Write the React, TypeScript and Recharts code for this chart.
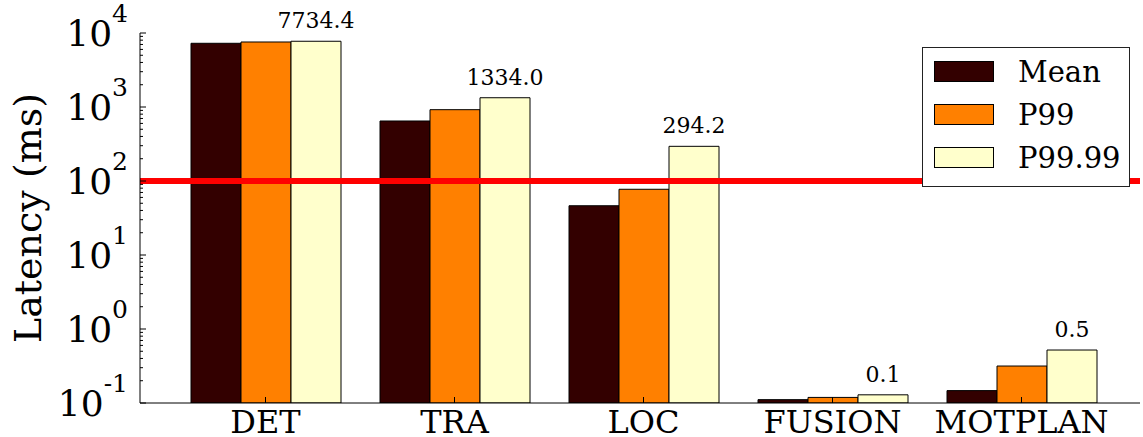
import React from 'react';
import {
  BarChart,
  Bar,
  XAxis,
  YAxis,
  ReferenceLine,
  LabelList,
  Legend
} from 'recharts';

const FONT = '"DejaVu Serif", serif';

// stages and latency values (ms)
const stages = ['DET', 'TRA', 'LOC', 'FUSION', 'MOTPLAN'];
const meanLatency = [7260, 647, 46.3, 0.111, 0.147];
const p99Latency = [7560, 920, 77.3, 0.119, 0.316];
const p9999Latency = [7734.4, 1334.0, 294.2, 0.129, 0.52];

const seriesNames = ['Mean', 'P99', 'P99.99'];
const seriesColors = ['#330000', '#ff8000', '#ffffcc'];

const majorTicks = [0.1, 1, 10, 100, 1000, 10000];
const deadline = 100;

// minor log ticks 2..9 inside each decade
const minorTicks = majorTicks.slice(0, -1).flatMap(d =>
  [2, 3, 4, 5, 6, 7, 8, 9].map(k => k * d)
);
const allTicks = [...majorTicks, ...minorTicks];

const data = stages.map((name, i) => ({
  name,
  mean: meanLatency[i],
  p99: p99Latency[i],
  p9999: p9999Latency[i]
}));

const isMajor = (v: number) => {
  const l = Math.log10(v);
  return Math.abs(l - Math.round(l)) < 1e-6;
};

const LeftTick = (props: any) => {
  const { x, y, payload } = props;
  const v = payload.value;
  const major = isMajor(v);
  const x0 = x + 12;
  return (
    <g>
      <line x1={x0} x2={x0 + (major ? 6 : 3)} y1={y} y2={y} stroke="#000" />
      {major && (
        <text x={x} y={y + 13} textAnchor="end" fontFamily={FONT} fill="#000">
          <tspan fontSize={36}>10</tspan>
          <tspan fontSize={25} dy={-24}>{Math.round(Math.log10(v))}</tspan>
        </text>
      )}
    </g>
  );
};

const RightTick = (props: any) => {
  const { x, y, payload } = props;
  const len = isMajor(payload.value) ? 6 : 3;
  return <line x1={x} x2={x - len} y1={y} y2={y} stroke="#000" />;
};

const renderLegend = (props: any) => {
  const payload = props.payload || [];
  return (
    <div
      style={{
        position: 'relative',
        width: 208,
        height: 140,
        boxSizing: 'border-box',
        border: '1px solid #222',
        background: '#fff',
        fontFamily: FONT
      }}
    >
      {payload.map((entry: any, i: number) => (
        <div
          key={entry.value}
          style={{
            position: 'absolute',
            left: 11,
            top: 13 + i * 43,
            height: 21,
            display: 'flex',
            alignItems: 'center'
          }}
        >
          <span
            style={{
              width: 60,
              height: 21,
              boxSizing: 'border-box',
              background: entry.color,
              border: '1px solid #000'
            }}
          />
          <span style={{ marginLeft: 24, fontSize: 29, color: '#000', whiteSpace: 'nowrap' }}>
            {entry.value}
          </span>
        </div>
      ))}
    </div>
  );
};

const YLabel = (props: any) => {
  const { viewBox } = props;
  const cy = viewBox.y + viewBox.height / 2;
  return (
    <text
      x={41}
      y={cy}
      transform={`rotate(-90, 41, ${cy})`}
      textAnchor="middle"
      fontFamily={FONT}
      fontSize={38}
      fill="#000"
    >
      Latency (ms)
    </text>
  );
};

const xPadding = { left: 31, right: 24 };

const App = () => {
  return (
    <div style={{ position: 'absolute', left: 0, top: 0, background: '#fff' }}>
      <BarChart
        width={1143}
        height={437}
        data={data}
        margin={{ top: 33, right: 3, bottom: 0, left: 0 }}
        barSize={50}
        barGap={0}
      >
        <XAxis
          xAxisId="bottom"
          dataKey="name"
          height={34}
          padding={xPadding}
          tickSize={-6}
          tickMargin={13}
          axisLine={{ stroke: '#000' }}
          tickLine={{ stroke: '#000' }}
          tick={{ fontSize: 32, fontFamily: FONT, fill: '#000' }}
          interval={0}
        />
        <XAxis
          xAxisId="top"
          dataKey="name"
          orientation="top"
          height={0}
          padding={xPadding}
          tickSize={-6}
          axisLine={{ stroke: '#000' }}
          tickLine={{ stroke: '#000' }}
          tick={() => <g />}
          interval={0}
        />
        <YAxis
          yAxisId="left"
          type="number"
          scale="log"
          domain={[0.1, 10000]}
          allowDataOverflow
          ticks={allTicks}
          interval={0}
          width={140}
          tickSize={0}
          tickMargin={12}
          tickLine={false}
          axisLine={{ stroke: '#000' }}
          tick={<LeftTick />}
          label={<YLabel />}
        />
        <YAxis
          yAxisId="right"
          orientation="right"
          type="number"
          scale="log"
          domain={[0.1, 10000]}
          allowDataOverflow
          ticks={allTicks}
          interval={0}
          width={0}
          tickSize={0}
          tickMargin={0}
          tickLine={false}
          axisLine={{ stroke: '#000' }}
          tick={<RightTick />}
        />
        <Legend
          content={renderLegend}
          layout="horizontal"
          verticalAlign="middle"
          align="center"
          wrapperStyle={{ left: 922, top: 47, width: 208, height: 140 }}
        />
        <Bar
          xAxisId="bottom"
          yAxisId="left"
          dataKey="mean"
          name={seriesNames[0]}
          fill={seriesColors[0]}
          stroke="#000"
          strokeWidth={1}
          isAnimationActive={false}
        />
        <Bar
          xAxisId="bottom"
          yAxisId="left"
          dataKey="p99"
          name={seriesNames[1]}
          fill={seriesColors[1]}
          stroke="#000"
          strokeWidth={1}
          isAnimationActive={false}
        />
        <Bar
          xAxisId="bottom"
          yAxisId="left"
          dataKey="p9999"
          name={seriesNames[2]}
          fill={seriesColors[2]}
          stroke="#000"
          strokeWidth={1}
          isAnimationActive={false}
        >
          <LabelList
            dataKey="p9999"
            position="top"
            offset={13}
            formatter={(v: any) => Number(v).toFixed(1)}
            fill="#000"
            fontSize={22}
            fontFamily={FONT}
          />
        </Bar>
        <ReferenceLine
          xAxisId="bottom"
          yAxisId="left"
          y={deadline}
          stroke="#ff0000"
          strokeWidth={6}
        />
      </BarChart>
    </div>
  );
};

export default App;
